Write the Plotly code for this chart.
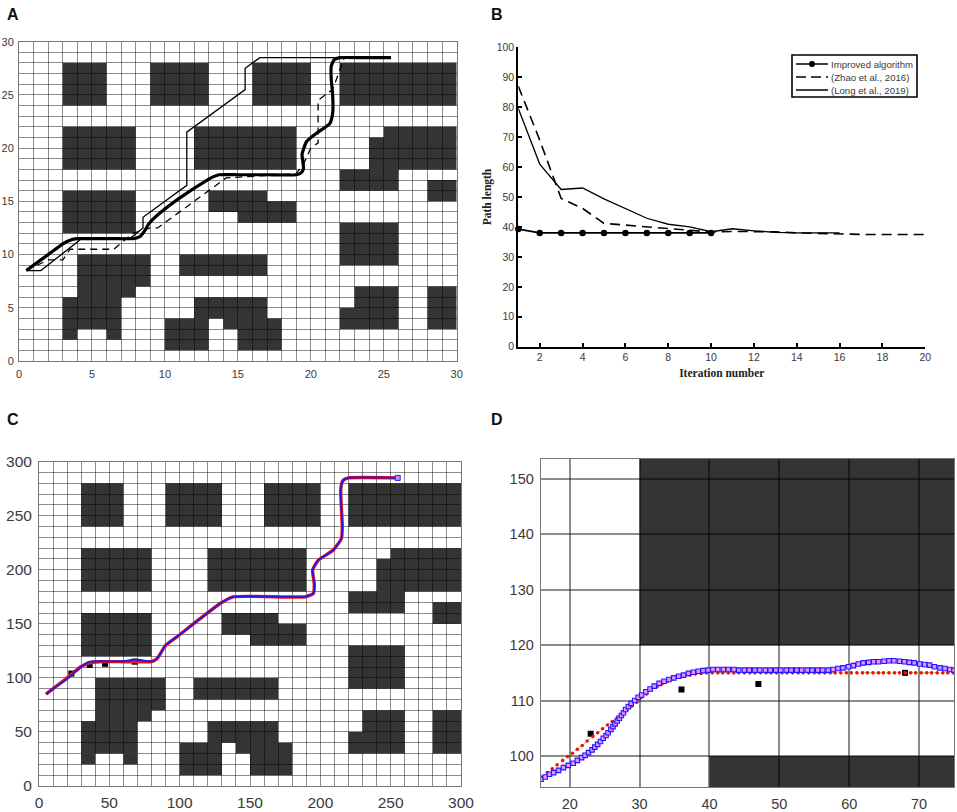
import plotly.graph_objects as go

WIDTH = 957
HEIGHT = 812
TICK_COLOR = "#3a3a3a"
GRID_COLOR = "rgba(0,0,0,0.45)"
CELL_COLOR = "#343434"
FRAME_COLOR = "#777777"

# obstacles as x0, x1, y0, y1 in map cells
obstacles = [
    (3, 6, 24, 28), (9, 13, 24, 28), (16, 20, 24, 28), (22, 30, 24, 28),
    (3, 8, 18, 22), (12, 19, 18, 22), (25, 30, 21, 22), (24, 30, 18, 21),
    (22, 26, 16, 18), (28, 30, 15, 17),
    (3, 8, 12, 16), (13, 17, 14, 16), (15, 19, 13, 15), (22, 26, 9, 13),
    (4, 9, 7, 10), (4, 8, 6, 7), (3, 7, 3, 6), (3, 4, 2, 3), (6, 7, 2, 3),
    (11, 17, 8, 10), (12, 17, 4, 6), (10, 13, 1, 4), (14, 18, 3, 4), (15, 18, 1, 3),
    (23, 26, 3, 7), (22, 23, 3, 5), (28, 30, 3, 7),
]

# panel A paths
improved_x = [0.5, 1.5, 2.4, 3.0, 3.4, 3.95, 5, 6.5, 7.84, 8.3, 8.6, 8.9, 9.4, 11, 12.9, 13.3, 13.7, 15, 17, 19,
              19.35, 19.5, 19.45, 19.4, 19.7, 20.1, 20.6, 21.3, 21.5, 21.5, 21.4, 21.4, 21.6, 22, 23.5, 25.5]
improved_y = [8.5, 9.5, 10.4, 11, 11.3, 11.5, 11.5, 11.5, 11.5, 11.7, 12.2, 12.9, 13.6, 15.3, 17, 17.3, 17.5, 17.5, 17.5, 17.5,
              17.7, 18.1, 18.8, 19.4, 20.6, 21.1, 21.6, 22.3, 23.3, 25, 26.5, 27.7, 28.3, 28.5, 28.5, 28.5]
zhao_x = [0.5, 2, 3, 3.5, 6.5, 7.8, 9, 9.5, 14.2, 19, 19.5, 20, 20.5, 20.5, 21.5, 22.3]
zhao_y = [8.5, 9.5, 9.5, 10.5, 10.5, 12, 12.5, 12.5, 17.2, 17.6, 18.5, 20, 20.5, 24.5, 25.5, 28.5]
long_x = [0.5, 1.5, 4.2, 7.6, 8.5, 8.5, 11.5, 11.5, 15.5, 15.5, 16.5, 25.5]
long_y = [8.5, 8.5, 11.4, 11.5, 12.5, 13.5, 16.5, 21.5, 25.5, 27.5, 28.5, 28.5]

# panel B
iter_improved = [1, 2, 3, 4, 5, 6, 7, 8, 9, 10]
len_improved = [39.3, 38, 38, 38, 38, 38, 38, 38, 38, 38]
iter_zhao = [1, 2, 3, 4, 5, 6, 7, 8, 9, 10, 11, 12, 13, 14, 15, 16, 17, 18, 19, 20]
len_zhao = [87, 69, 49.5, 46.2, 41.2, 40.6, 40.2, 39.6, 38.9, 38.3, 38.5, 38.5, 38.4, 38, 37.8, 37.5, 37.5, 37.5, 37.5, 37.5]
iter_long = [1, 2, 3, 4, 5, 6, 7, 8, 9, 10, 11, 12, 13, 14, 15, 16]
len_long = [79.6, 61, 52.5, 53, 49.4, 46.2, 42.9, 40.9, 40, 38.4, 39.4, 38.7, 38.2, 38, 38, 38]
legend_labels = ["Improved algorithm", "(Zhao et al., 2016)", "(Long et al., 2019)"]

# panel C
way_x = [23, 36, 47, 68]
way_y = [104, 112, 113, 115]
smooth_x = [5, 10, 20, 30, 36, 43, 60, 68, 75, 80, 84, 90, 98, 129, 138, 189, 195, 195.7, 194.5, 198.6, 209, 215, 215.6, 214.5, 216, 220, 254]
red_y = [85, 90, 100, 110.5, 114, 115, 115, 115, 115, 115, 118, 130, 138, 169, 175, 175, 178, 187, 200, 209, 218, 229, 240, 274, 282.5, 285, 285]
blue_y = [85, 90, 99, 110.4, 115, 115.4, 115.4, 117, 116, 115, 118, 130.4, 138, 169, 175, 175, 178, 187, 200, 209, 218, 229, 240, 274, 282.5, 285, 285]
goal_x = [255]
goal_y = [285]

# panel D, single samples of the two smoothed paths
detail_blue_x = [15.9, 16.5, 17.1, 17.7, 18.4, 19.1, 19.8, 20.5, 21.1, 21.7, 22.2, 22.7, 23.2, 23.6, 24.0, 24.4, 24.8,
                 25.2, 25.5, 25.9, 26.2, 26.5, 26.8, 27.1, 27.4, 27.7, 28.0, 28.4, 28.8, 29.3, 29.8, 30.3, 30.9, 31.5,
                 32.1, 32.8, 33.5, 34.2, 34.9, 35.6, 36.3, 37.0, 37.7, 38.4, 39.1, 39.8, 40.5, 41.2, 42.0, 42.7, 43.5,
                 44.2, 45.0, 45.7, 46.5, 47.2, 48.0, 48.7, 49.5, 50.2, 51.0, 51.7, 52.5, 53.2, 54.0, 54.7, 55.5, 56.2,
                 57.0, 57.7, 58.4, 59.1, 59.9, 60.6, 61.3, 62.0, 62.8, 63.5, 64.2, 65.0, 65.7, 66.4, 67.2, 67.9, 68.6,
                 69.3, 70.1, 70.8, 71.5, 72.2, 73.0, 73.7, 74.4, 75.0]
detail_blue_y = [95.8, 96.2, 96.7, 97.0, 97.4, 97.9, 98.3, 98.7, 99.2, 99.7, 100.1, 100.6, 101.1, 101.6, 102.1, 102.6, 103.2,
                 103.7, 104.2, 104.8, 105.3, 105.8, 106.3, 106.8, 107.3, 107.8, 108.4, 108.9, 109.5, 110.0, 110.6, 111.0, 111.6, 112.1,
                 112.6, 113.1, 113.5, 113.8, 114.1, 114.4, 114.6, 114.9, 115.1, 115.3, 115.4, 115.5, 115.6, 115.6, 115.6, 115.6, 115.6,
                 115.5, 115.5, 115.5, 115.5, 115.5, 115.5, 115.5, 115.5, 115.5, 115.5, 115.5, 115.5, 115.5, 115.5, 115.5, 115.5, 115.5,
                 115.5, 115.6, 115.8, 115.9, 116.1, 116.3, 116.6, 116.8, 116.9, 117.0, 117.0, 117.1, 117.2, 117.2, 117.1, 117.0, 116.9,
                 116.8, 116.6, 116.5, 116.4, 116.1, 115.9, 115.8, 115.6, 115.5]
detail_red_x = [16.0, 16.8, 17.5, 18.2, 19.0, 19.7, 20.4, 21.1, 21.8, 22.5, 23.3, 24.0, 24.7, 25.4, 26.1, 26.8, 27.5, 28.2, 28.9,
                29.6, 30.3, 31.0, 31.7, 32.5, 33.2, 34.0, 34.8, 35.6, 36.4, 37.2, 38.0, 38.8, 39.6, 40.4, 41.2, 41.9, 42.7, 43.5,
                44.2, 45.0, 45.8, 46.5, 47.3, 48.1, 48.8, 49.6, 50.4, 51.1, 51.9, 52.7, 53.4, 54.2, 55.0, 55.7, 56.5, 57.3, 58.0,
                58.8, 59.6, 60.3, 61.1, 61.9, 62.6, 63.4, 64.2, 64.9, 65.7, 66.5, 67.2, 68.0, 68.8, 69.5, 70.3, 71.1, 71.8, 72.6,
                73.4, 74.1, 74.9]
detail_red_y = [96.2, 97.0, 97.7, 98.4, 99.2, 99.9, 100.5, 101.2, 101.9, 102.7, 103.5, 104.2, 104.9, 105.6, 106.2, 106.9, 107.6, 108.3, 109.0,
                109.7, 110.6, 111.2, 111.9, 112.5, 113.0, 113.5, 113.9, 114.2, 114.4, 114.6, 114.8, 114.9, 115, 115, 115, 115, 115, 115,
                115, 115, 115, 115, 115, 115, 115, 115, 115, 115, 115, 115, 115, 115, 115, 115, 115, 115, 115,
                115, 115, 115, 115, 115, 115, 115, 115, 115, 115, 115, 115, 115, 115, 115, 115, 115, 115, 115,
                115, 115, 115]


def px_x(x):
    return x / WIDTH


def px_y(y):
    return 1 - y / HEIGHT


def map_axes(left, right, top, bottom, xrange, yrange, major_x, major_y, minor=None, size=11, width=1.2, standoff=(3, 2)):
    xa = dict(domain=[px_x(left), px_x(right)], range=xrange, dtick=major_x, tick0=0, showgrid=True,
              gridcolor=GRID_COLOR, gridwidth=width, zeroline=False, showline=True, mirror=True,
              linecolor=FRAME_COLOR, linewidth=1, ticks="", automargin=False, ticklabelstandoff=standoff[0],
              tickfont=dict(size=size, color=TICK_COLOR))
    ya = dict(domain=[px_y(bottom), px_y(top)], range=yrange, dtick=major_y, tick0=0, showgrid=True,
              gridcolor=GRID_COLOR, gridwidth=width, zeroline=False, showline=True, mirror=True,
              linecolor=FRAME_COLOR, linewidth=1, ticks="", automargin=False, ticklabelstandoff=standoff[1],
              tickfont=dict(size=size, color=TICK_COLOR))
    if minor:
        xa["minor"] = dict(dtick=minor, showgrid=True, gridcolor=GRID_COLOR, gridwidth=width)
        ya["minor"] = dict(dtick=minor, showgrid=True, gridcolor=GRID_COLOR, gridwidth=width)
    return xa, ya


def add_cells(fig, xref, yref, scale):
    for x0, x1, y0, y1 in obstacles:
        fig.add_shape(type="rect", xref=xref, yref=yref, x0=x0 * scale, x1=x1 * scale,
                      y0=y0 * scale, y1=y1 * scale, fillcolor=CELL_COLOR, line_width=0, layer="below")


fig = go.Figure()

# A
fig.add_trace(go.Scatter(x=long_x, y=long_y, mode="lines", line=dict(color="black", width=1.3), xaxis="x", yaxis="y"))
fig.add_trace(go.Scatter(x=zhao_x, y=zhao_y, mode="lines", line=dict(color="black", width=1.3, dash="7px,5px"), xaxis="x", yaxis="y"))
fig.add_trace(go.Scatter(x=improved_x, y=improved_y, mode="lines", line=dict(color="black", width=3.2, shape="spline", smoothing=0.5), xaxis="x", yaxis="y"))

# B
fig.add_trace(go.Scatter(x=iter_zhao, y=len_zhao, mode="lines", line=dict(color="black", width=1.6, dash="10px,6px"), xaxis="x2", yaxis="y2"))
fig.add_trace(go.Scatter(x=iter_long, y=len_long, mode="lines", line=dict(color="black", width=1.3), xaxis="x2", yaxis="y2"))
fig.add_trace(go.Scatter(x=iter_improved, y=len_improved, mode="lines+markers", cliponaxis=False,
                         line=dict(color="black", width=1.8), marker=dict(color="black", size=6.5), xaxis="x2", yaxis="y2"))

# C
fig.add_trace(go.Scatter(x=way_x, y=way_y, mode="markers", marker=dict(symbol="square", color="black", size=6), xaxis="x3", yaxis="y3"))
fig.add_trace(go.Scatter(x=smooth_x, y=red_y, mode="lines", line=dict(color="#ee1111", width=3.4, shape="spline", smoothing=0.5), xaxis="x3", yaxis="y3"))
fig.add_trace(go.Scatter(x=smooth_x, y=blue_y, mode="lines", line=dict(color="#1a1af0", width=1.8, shape="spline", smoothing=0.5), xaxis="x3", yaxis="y3"))
fig.add_trace(go.Scatter(x=goal_x, y=goal_y, mode="markers", marker=dict(symbol="square", color="#c090ff", size=5, line=dict(color="#2020ff", width=1)), xaxis="x3", yaxis="y3"))

# D
fig.add_trace(go.Scatter(x=way_x, y=way_y, mode="markers", marker=dict(symbol="square", color="black", size=6), xaxis="x4", yaxis="y4"))
fig.add_trace(go.Scatter(x=detail_red_x, y=detail_red_y, mode="lines+markers", line=dict(color="#9acd32", width=1, dash="dot"),
                         marker=dict(color="#ee1111", size=3.6), xaxis="x4", yaxis="y4"))
fig.add_trace(go.Scatter(x=detail_blue_x, y=detail_blue_y, mode="markers",
                         marker=dict(symbol="square", color="#f090ff", size=4.5, line=dict(color="#1a1aff", width=1.1)), xaxis="x4", yaxis="y4"))

add_cells(fig, "x", "y", 1)
add_cells(fig, "x3", "y3", 10)
add_cells(fig, "x4", "y4", 10)

xa1, ya1 = map_axes(19, 456.7, 41.7, 361, [0, 30], [0, 30], 5, 5, minor=1)
xa3, ya3 = map_axes(39, 461, 461.7, 786, [0, 300], [0, 300], 50, 50, minor=10, size=15.5, standoff=(2, 3))
xa4, ya4 = map_axes(540.7, 954, 459, 787, [15.85, 75], [94.4, 153.6], 10, 10, size=14.5, width=1.5, standoff=(4, 3))
xa3["anchor"] = "y3"
ya3["anchor"] = "x3"
xa4["anchor"] = "y4"
ya4["anchor"] = "x4"

xa2 = dict(domain=[px_x(518.3), px_x(925.3)], range=[1, 20], tick0=2, dtick=2, anchor="y2", showgrid=False, zeroline=False,
           showline=True, linecolor="black", linewidth=2, ticks="inside", ticklen=4, tickwidth=1.5, tickcolor="black",
           automargin=False, tickfont=dict(size=10.5, color=TICK_COLOR),
           title=dict(text="Iteration number", standoff=7, font=dict(family="Liberation Serif", size=11.5, color="#222222", weight="bold")))
ya2 = dict(domain=[px_y(346.7), px_y(47.3)], range=[0, 100], dtick=10, anchor="x2", showgrid=False, zeroline=False,
           showline=True, linecolor="black", linewidth=2, ticks="inside", ticklen=4, tickwidth=1.5, tickcolor="black",
           automargin=False, tickfont=dict(size=10.5, color=TICK_COLOR),
           title=dict(text="Path length", standoff=3, font=dict(family="Liberation Serif", size=11.5, color="#222222", weight="bold")))

fig.update_layout(
    width=WIDTH, height=HEIGHT,
    margin=dict(l=0, r=0, t=0, b=0),
    paper_bgcolor="white", plot_bgcolor="white",
    font=dict(family="Liberation Sans", color=TICK_COLOR),
    showlegend=False,
    xaxis=xa1, yaxis=ya1, xaxis2=xa2, yaxis2=ya2, xaxis3=xa3, yaxis3=ya3, xaxis4=xa4, yaxis4=ya4,
)

# legend of panel B, plotly's own rows are too tall for this box
fig.add_shape(type="rect", xref="paper", yref="paper", x0=px_x(792), x1=px_x(917), y0=px_y(97), y1=px_y(55),
              line=dict(color="black", width=1.6), fillcolor="white")
row_y = [64, 77, 90]
row_dash = ["solid", "10px,5px", "solid"]
for label, y, dash in zip(legend_labels, row_y, row_dash):
    fig.add_shape(type="line", xref="paper", yref="paper", x0=px_x(796), x1=px_x(828), y0=px_y(y), y1=px_y(y),
                  line=dict(color="black", width=1.5, dash=dash))
    fig.add_annotation(text=label, xref="paper", yref="paper", x=px_x(829), y=px_y(y), xanchor="left", yanchor="middle",
                       showarrow=False, font=dict(size=9.6, color=TICK_COLOR))
fig.add_shape(type="circle", xref="paper", yref="paper", x0=px_x(809), x1=px_x(815), y0=px_y(67), y1=px_y(61),
              fillcolor="black", line_width=0)

# panel letters
panels = [("A", 13, 15), ("B", 497, 15), ("C", 13, 419), ("D", 497, 419)]
for letter, x, y in panels:
    fig.add_annotation(text="<b>%s</b>" % letter, xref="paper", yref="paper", x=px_x(x), y=px_y(y), xanchor="center", yanchor="middle",
                       showarrow=False, font=dict(size=16, color="#111111"))

# the page keeps an 8px body margin otherwise
fig.write_html("out.html", config={"displayModeBar": False}, post_script="document.body.style.margin='0';")
